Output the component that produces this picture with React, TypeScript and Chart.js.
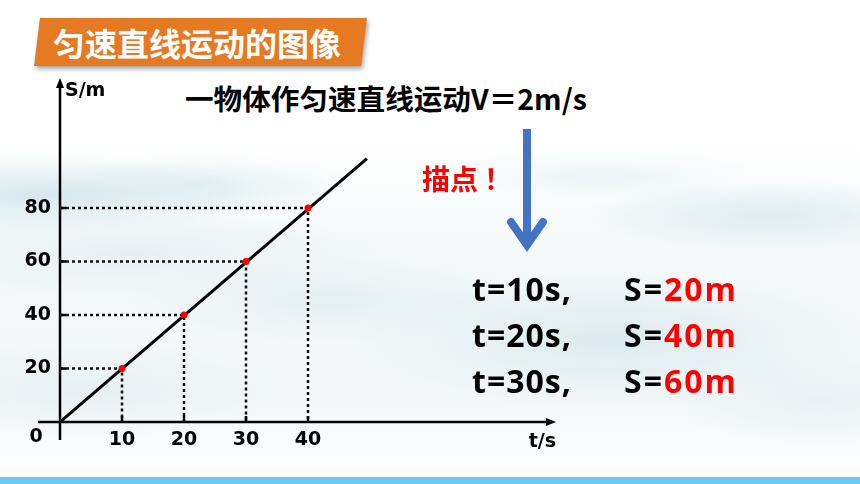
import React, { useEffect, useRef } from "react";
import { Chart, registerables } from "chart.js";

Chart.register(...registerables);

// ---- data ----
const timeTicks = [10, 20, 30, 40];
const distTicks = [20, 40, 60, 80];
const plottedT = [10, 20, 30, 40];
const plottedS = [20, 40, 60, 80];
const lineT = [0, 49.5];
const lineS = [0, 98.5];
const tableT = ["10", "20", "30"];
const tableS = ["20", "40", "60"];
const xMax = 80;
const yMax = 128.6;

const LATIN = '"Open Sans", "Noto Sans", sans-serif';
const AXISFONT = '"DejaVu Sans", "Open Sans", sans-serif';
const CJK = '"Noto Sans CJK SC", "Noto Sans", sans-serif';

const axesPlugin = {
  id: "arrowAxes",
  beforeDatasetsDraw(chart: any) {
    const { ctx } = chart;
    const x = chart.scales.x;
    const y = chart.scales.y;
    const ox = x.getPixelForValue(0);
    const oy = y.getPixelForValue(0);
    const xe = x.getPixelForValue(xMax);
    const ye = y.getPixelForValue(yMax);
    ctx.save();
    ctx.strokeStyle = "#000";
    ctx.fillStyle = "#000";
    ctx.lineWidth = 2.5;
    ctx.beginPath();
    ctx.moveTo(ox - 22, oy);
    ctx.lineTo(xe - 6, oy);
    ctx.moveTo(ox, oy + 18);
    ctx.lineTo(ox, ye + 6);
    ctx.stroke();
    // arrow heads
    ctx.beginPath();
    ctx.moveTo(xe, oy);
    ctx.lineTo(xe - 10, oy - 4);
    ctx.lineTo(xe - 10, oy + 4);
    ctx.closePath();
    ctx.fill();
    ctx.beginPath();
    ctx.moveTo(ox, ye);
    ctx.lineTo(ox - 4, ye + 10);
    ctx.lineTo(ox + 4, ye + 10);
    ctx.closePath();
    ctx.fill();
    // small tick marks
    ctx.beginPath();
    timeTicks.forEach((t) => {
      const px = x.getPixelForValue(t);
      ctx.moveTo(px, oy);
      ctx.lineTo(px, oy - 6);
    });
    distTicks.forEach((s) => {
      const py = y.getPixelForValue(s);
      ctx.moveTo(ox, py);
      ctx.lineTo(ox + 6, py);
    });
    ctx.stroke();
    ctx.restore();
  },
  afterDraw(chart: any) {
    const { ctx } = chart;
    const x = chart.scales.x;
    const y = chart.scales.y;
    const ox = x.getPixelForValue(0);
    const oy = y.getPixelForValue(0);
    const xe = x.getPixelForValue(xMax);
    const ye = y.getPixelForValue(yMax);
    ctx.save();
    ctx.fillStyle = "#000";
    ctx.textBaseline = "middle";
    ctx.font = `bold 19px ${AXISFONT}`;
    ctx.textAlign = "center";
    ctx.fillText("0", ox - 24, oy + 15);
    ctx.textAlign = "left";
    ctx.fillText("S/m", ox + 5, ye + 13);
    ctx.textAlign = "right";
    ctx.fillText("t/s", xe, oy + 20);
    ctx.restore();
  },
};

export default function App() {
  const ref = useRef<HTMLCanvasElement>(null);

  useEffect(() => {
    document.body.style.margin = "0";
    const guides = plottedT.map((t, i) => ({
      label: `guide${i}`,
      data: [
        { x: 0, y: plottedS[i] },
        { x: t, y: plottedS[i] },
        { x: t, y: 0 },
      ],
      showLine: true,
      borderColor: "#111",
      borderWidth: 2.5,
      borderDash: [3, 3],
      pointRadius: 0,
      fill: false,
    }));
    const chart = new Chart(ref.current as HTMLCanvasElement, {
      type: "scatter",
      data: {
        datasets: [
          {
            label: "points",
            data: plottedT.map((t, i) => ({ x: t, y: plottedS[i] })),
            pointRadius: 3.5,
            pointBackgroundColor: "#ff0000",
            pointBorderColor: "#ff0000",
            pointBorderWidth: 0,
            showLine: false,
          },
          {
            label: "s = vt",
            data: lineT.map((t, i) => ({ x: t, y: lineS[i] })),
            showLine: true,
            borderColor: "#000",
            borderWidth: 3,
            pointRadius: 0,
            fill: false,
          },
          ...guides,
        ] as any,
      },
      options: {
        responsive: false,
        animation: false,
        layout: { padding: { left: 0, top: 78, right: 304, bottom: 0 } },
        plugins: { legend: { display: false }, tooltip: { enabled: false } },
        scales: {
          x: {
            type: "linear",
            min: 0,
            max: xMax,
            grid: { display: false, drawTicks: false },
            border: { display: false },
            afterBuildTicks: (s: any) => {
              s.ticks = timeTicks.map((v) => ({ value: v }));
            },
            afterFit: (s: any) => {
              s.height = 62;
            },
            ticks: {
              padding: 7,
              autoSkip: false,
              maxRotation: 0,
              color: "#000",
              font: { family: AXISFONT, weight: "bold", size: 19 },
            },
          },
          y: {
            type: "linear",
            min: 0,
            max: yMax,
            grid: { display: false, drawTicks: false },
            border: { display: false },
            afterBuildTicks: (s: any) => {
              s.ticks = distTicks.map((v) => ({ value: v }));
            },
            afterFit: (s: any) => {
              s.width = 60;
            },
            ticks: {
              padding: 9,
              autoSkip: false,
              color: "#000",
              font: { family: AXISFONT, weight: "bold", size: 19 },
            },
          },
        },
      } as any,
      plugins: [axesPlugin],
    });
    return () => chart.destroy();
  }, []);

  const mist = (cx: number, cy: number, rx: number, ry: number, a: number) =>
    `radial-gradient(ellipse ${rx}px ${ry}px at ${cx}px ${cy}px, rgba(203,226,233,${a}), rgba(255,255,255,0))`;

  const bg = [
    mist(40, 195, 230, 40, 0.75),
    mist(200, 185, 160, 30, 0.45),
    mist(130, 255, 260, 45, 0.35),
    mist(330, 300, 200, 45, 0.4),
    mist(770, 215, 190, 35, 0.6),
    mist(600, 175, 160, 25, 0.3),
    mist(610, 340, 260, 70, 0.6),
    mist(90, 390, 200, 50, 0.35),
    mist(820, 400, 150, 50, 0.3),
    "linear-gradient(to bottom, #ffffff 0px, #ffffff 140px, #f5f9fa 240px, #f4f8f9 400px, #fbfcfd 455px, #ffffff 476px)",
  ].join(",");

  const rowTops = [269, 315, 361];

  return (
    <div
      style={{
        position: "relative",
        width: 860,
        height: 484,
        overflow: "hidden",
        background: bg,
      }}
    >
      {/* title banner */}
      <div
        style={{
          position: "absolute",
          left: 37,
          top: 18,
          width: 327,
          height: 48,
          background: "#e67a22",
          transform: "skewX(-7deg)",
          boxShadow: "2px 3px 4px rgba(0,0,0,0.35)",
        }}
      />
      <div
        style={{
          position: "absolute",
          left: 53,
          top: 18,
          height: 48,
          lineHeight: "48px",
          fontFamily: CJK,
          fontWeight: 700,
          fontSize: 32,
          color: "#fff",
          whiteSpace: "nowrap",
        }}
      >
        匀速直线运动的图像
      </div>

      {/* subtitle */}
      <div
        style={{
          position: "absolute",
          left: 185,
          top: 80,
          height: 36,
          lineHeight: "36px",
          fontFamily: CJK,
          fontWeight: 700,
          fontSize: 28.6,
          color: "#000",
          whiteSpace: "nowrap",
        }}
      >
        一物体作匀速直线运动V＝2m/s
      </div>

      <canvas
        ref={ref}
        width={860}
        height={484}
        style={{ position: "absolute", left: 0, top: 0, width: 860, height: 484 }}
      />

      {/* 描点 */}
      <div
        style={{
          position: "absolute",
          left: 422,
          top: 160,
          height: 36,
          lineHeight: "36px",
          fontFamily: CJK,
          fontWeight: 700,
          fontSize: 28,
          color: "#ff0000",
          whiteSpace: "nowrap",
        }}
      >
        描点<span style={{ marginLeft: 6 }}>！</span>
      </div>

      {/* blue arrow */}
      <svg
        width={860}
        height={484}
        style={{ position: "absolute", left: 0, top: 0 }}
      >
        <rect x={523} y={129} width={8} height={112} fill="#4472c4" />
        <polyline
          points="511,222 527,245 543,222"
          fill="none"
          stroke="#4472c4"
          strokeWidth={8}
          strokeLinecap="round"
          strokeLinejoin="miter"
          strokeMiterlimit={10}
        />
      </svg>

      {/* table */}
      {tableT.map((t, i) => (
        <React.Fragment key={t}>
          <div
            style={{
              position: "absolute",
              left: 472,
              top: rowTops[i],
              height: 40,
              lineHeight: "40px",
              fontFamily: LATIN,
              fontWeight: 700,
              fontSize: 32,
              letterSpacing: 1,
              color: "#000",
              whiteSpace: "nowrap",
            }}
          >
            {`t=${t}s,`}
          </div>
          <div
            style={{
              position: "absolute",
              left: 624,
              top: rowTops[i],
              height: 40,
              lineHeight: "40px",
              fontFamily: LATIN,
              fontWeight: 700,
              fontSize: 32,
              letterSpacing: 2,
              color: "#000",
              whiteSpace: "nowrap",
            }}
          >
            S=<span style={{ color: "#ff0000" }}>{`${tableS[i]}m`}</span>
          </div>
        </React.Fragment>
      ))}

      {/* bottom strip */}
      <div
        style={{
          position: "absolute",
          left: 0,
          top: 477,
          width: 860,
          height: 7,
          background: "#6cc8f4",
        }}
      />
    </div>
  );
}
